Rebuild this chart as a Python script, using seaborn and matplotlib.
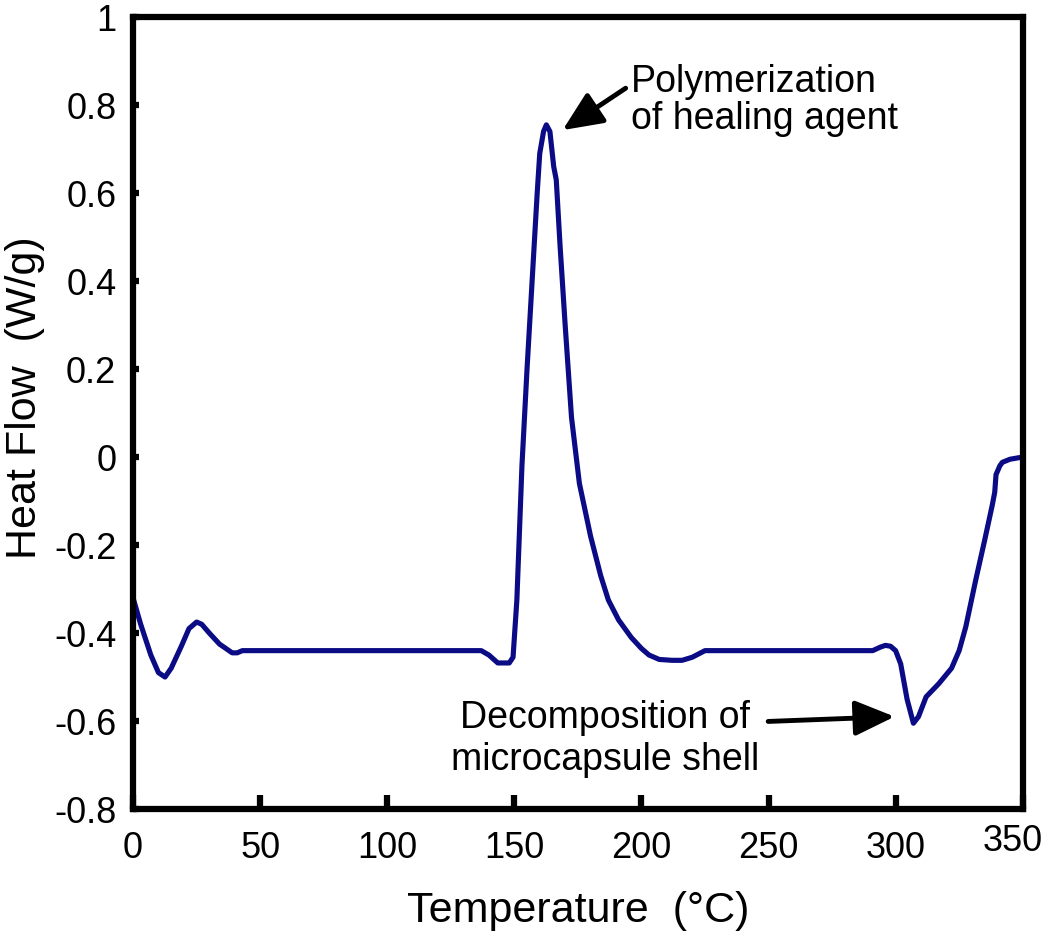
import matplotlib
matplotlib.use("Agg")
import matplotlib.pyplot as plt
import matplotlib.transforms as mtransforms
import seaborn as sns
import pandas as pd

temperature = [0, 3, 7, 10, 12.6, 15, 19, 22, 25, 27, 30, 34, 39, 41, 43, 50, 80, 110, 137, 140, 143.5, 146, 148, 149.5,
               151, 153, 155, 157, 159, 160, 161.5, 162.6, 164, 165.5, 166.5, 168, 170, 172.5, 175.6, 180, 184, 187,
               191, 196, 200, 203, 207, 212, 216, 220, 225, 250, 280, 291, 294, 296, 298, 300, 302, 304.5, 307,
               309, 312, 317, 322, 325, 327.6, 331.5, 335, 338, 339, 339.5, 341, 342, 345, 350]
heat_flow = [-0.32, -0.38, -0.45, -0.49, -0.50, -0.48, -0.43, -0.39, -0.375, -0.38, -0.40, -0.425, -0.445, -0.445, -0.44,
             -0.44, -0.44, -0.44, -0.44, -0.45, -0.468, -0.468, -0.468, -0.455,
             -0.325, -0.02, 0.20, 0.40, 0.60, 0.69, 0.74, 0.755, 0.74, 0.66, 0.63, 0.48, 0.30, 0.09, -0.06, -0.18,
             -0.27, -0.325, -0.37, -0.41, -0.435, -0.45, -0.46, -0.462, -0.462, -0.455, -0.44, -0.44, -0.44, -0.44,
             -0.432, -0.428, -0.43, -0.44, -0.47, -0.55, -0.605, -0.59, -0.545, -0.515, -0.48, -0.44, -0.386, -0.28,
             -0.19, -0.11, -0.08, -0.04, -0.02, -0.012, -0.005, 0.0]

x_ticks = [0, 50, 100, 150, 200, 250, 300, 350]
y_ticks = [-0.8, -0.6, -0.4, -0.2, 0, 0.2, 0.4, 0.6, 0.8, 1]
y_tick_labels = ["-0.8", "-0.6", "-0.4", "-0.2", "0", "0.2", "0.4", "0.6", "0.8", "1"]

df = pd.DataFrame({"Temperature": temperature, "HeatFlow": heat_flow})

sns.set_style("ticks")
plt.rcParams["font.family"] = ["Liberation Sans", "DejaVu Sans"]
plt.rcParams["text.color"] = "black"
plt.rcParams["axes.labelcolor"] = "black"
plt.rcParams["xtick.color"] = "black"
plt.rcParams["ytick.color"] = "black"

fig = plt.figure(figsize=(10.5, 9.31), dpi=100)
ax = fig.add_axes([0.1267, 0.131, 0.8473, 0.8507])

sns.lineplot(data=df, x="Temperature", y="HeatFlow", ax=ax, color="#0b0b85", linewidth=3.7,
             sort=False, estimator=None)

ax.set_xlim(0, 350)
ax.set_ylim(-0.8, 1)
ax.set_xticks(x_ticks)
ax.set_xticklabels([str(t) for t in x_ticks])
ax.set_yticks(y_ticks)
ax.set_yticklabels(y_tick_labels)

for sp in ax.spines.values():
    sp.set_linewidth(4.5)
    sp.set_color("black")
    sp.set_visible(True)

ax.tick_params(axis="x", direction="in", length=10, width=4.5, labelsize=26, pad=16, top=False)
ax.tick_params(axis="y", direction="in", length=4, width=4.5, labelsize=26, pad=12, right=False)

# the last x tick label sits a little higher and to the left in the reference
lbl = ax.get_xticklabels()[-1]
lbl.set_transform(lbl.get_transform() + mtransforms.ScaledTranslation(-10 / 100, 7 / 100, fig.dpi_scale_trans))

ax.set_xlabel("Temperature  (\u00b0C)", fontsize=31, labelpad=18)
ax.set_ylabel("Heat Flow  (W/g)", fontsize=31)
ax.yaxis.set_label_coords(-0.099, 0.52)

ax.annotate("Polymerization\nof healing agent", xy=(169, 0.743), xytext=(196, 0.81),
            fontsize=27, ha="left", va="center", linespacing=1.05,
            arrowprops=dict(arrowstyle="-|>,head_length=0.9,head_width=0.4", color="black", lw=3.5,
                            shrinkA=2, shrinkB=0, relpos=(0.0, 0.72)))
ax.annotate("Decomposition of\nmicrocapsule shell", xy=(299.6, -0.59), xytext=(185.6, -0.64),
            fontsize=27, ha="center", va="center", linespacing=1.22,
            arrowprops=dict(arrowstyle="-|>,head_length=0.9,head_width=0.4", color="black", lw=3.5,
                            shrinkA=0, shrinkB=0, relpos=(1.03, 0.72)))

fig.savefig("out.png", dpi=100)
